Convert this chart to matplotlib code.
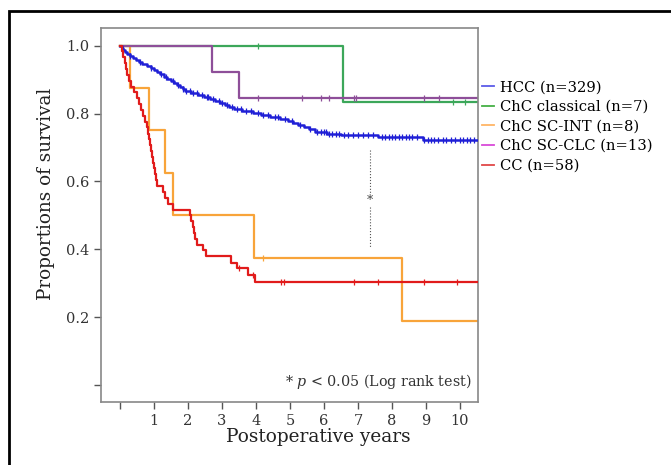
import numpy as np
import matplotlib
matplotlib.use("Agg")
import matplotlib.pyplot as plt
from matplotlib.lines import Line2D
from matplotlib.patches import Rectangle

plt.rcParams['font.family'] = ['DejaVu Serif']
plt.rcParams['mathtext.fontset'] = 'dejavuserif'

# ---- data (years, survival proportion) ----
hcc_t = [0, 0.05, 0.10, 0.15, 0.22, 0.30, 0.38, 0.47, 0.56, 0.66, 0.78, 0.90, 1.00,
         1.10, 1.18, 1.28, 1.38, 1.50, 1.60, 1.68, 1.76, 1.84, 1.92, 2.10, 2.30,
         2.48, 2.65, 2.80, 2.95, 3.08, 3.20, 3.35, 3.60, 3.90, 4.15, 4.40, 4.70,
         4.95, 5.10, 5.25, 5.40, 5.55, 5.75, 6.10, 6.50, 7.60, 8.90]
hcc_s = [1.0, 0.994, 0.988, 0.981, 0.975, 0.969, 0.963, 0.957, 0.951, 0.945, 0.939,
         0.933, 0.927, 0.921, 0.915, 0.909, 0.903, 0.897, 0.891, 0.885, 0.879,
         0.873, 0.867, 0.861, 0.855, 0.849, 0.843, 0.837, 0.831, 0.825, 0.819,
         0.813, 0.807, 0.801, 0.795, 0.789, 0.783, 0.777, 0.771, 0.765, 0.759,
         0.753, 0.747, 0.741, 0.737, 0.730, 0.723]
hcc_cens = [0.3, 0.6, 0.9, 1.2, 1.35, 1.55, 1.7, 1.85, 1.95, 2.05, 2.15, 2.25, 2.4,
            2.55, 2.6, 2.75, 2.9, 3.0, 3.15, 3.3, 3.45, 3.55, 3.7, 3.85, 4.05, 4.2,
            4.35, 4.55, 4.65, 4.85, 5.05, 5.3, 5.6, 5.8, 5.9, 6.0, 6.05, 6.15, 6.25,
            6.35, 6.45, 6.6, 6.7, 6.85, 7.0, 7.15, 7.3, 7.45, 7.7, 7.8, 7.9, 8.0,
            8.1, 8.2, 8.3, 8.4, 8.5, 8.6, 8.75, 8.95, 9.05, 9.15, 9.25, 9.35, 9.5,
            9.6, 9.75, 9.85, 10.0, 10.1, 10.2, 10.3, 10.4]

chc_cl_t = [0, 6.56]
chc_cl_s = [1.0, 0.833]
chc_cl_cens = [4.07, 9.8, 10.15]

chc_int_t = [0, 0.29, 0.86, 1.32, 1.57, 3.95, 8.31]
chc_int_s = [1.0, 0.875, 0.75, 0.625, 0.5, 0.375, 0.1875]
chc_int_cens = [4.2]

chc_clc_t = [0, 2.70, 3.50]
chc_clc_s = [1.0, 0.923, 0.846]
chc_clc_cens = [4.07, 5.34, 5.9, 6.16, 6.89, 6.94, 8.93, 9.37]

cc_t = [0, 0.05, 0.10, 0.14, 0.18, 0.22, 0.26, 0.33, 0.42, 0.50, 0.56, 0.62, 0.68,
        0.74, 0.78, 0.82, 0.86, 0.89, 0.92, 0.95, 0.98, 1.01, 1.04, 1.06, 1.08,
        1.27, 1.31, 1.42, 1.57, 2.06, 2.10, 2.14, 2.18, 2.22, 2.25, 2.45, 2.53,
        3.26, 3.43, 3.77, 3.97]
cc_s = [1.0, 0.983, 0.966, 0.948, 0.931, 0.914, 0.897, 0.879, 0.862, 0.845, 0.828,
        0.810, 0.793, 0.776, 0.759, 0.741, 0.724, 0.707, 0.690, 0.672, 0.655,
        0.638, 0.621, 0.603, 0.586, 0.569, 0.552, 0.534, 0.517, 0.500, 0.483,
        0.466, 0.448, 0.431, 0.414, 0.397, 0.379, 0.361, 0.344, 0.324, 0.305]
cc_cens = [3.5, 3.9, 4.75, 4.82, 6.88, 7.6, 8.94, 9.92]

labels = ["HCC (n=329)", "ChC classical (n=7)", "ChC SC-INT (n=8)",
          "ChC SC-CLC (n=13)", "CC (n=58)"]
follow_up_end = 10.6

fig = plt.figure(figsize=(6.71, 4.65), dpi=100)
ax = fig.add_axes([0.1505, 0.1355, 0.5618, 0.8043])


def km(t, s, cens, color, lw, z):
    tt = list(t) + [follow_up_end]
    ss = list(s) + [s[-1]]
    ax.step(tt, ss, where='post', color=color, lw=lw, zorder=z)
    idx = np.searchsorted(t, cens, side='right') - 1
    ax.plot(cens, np.array(s)[idx], ls='none', marker='|', ms=5, mew=0.9,
            color=color, zorder=z)


km(hcc_t, hcc_s, hcc_cens, '#1f1fd6', 1.8, 3)
km(chc_cl_t, chc_cl_s, chc_cl_cens, '#3ca75a', 1.6, 2)
km(chc_int_t, chc_int_s, chc_int_cens, '#f8a43a', 1.6, 2)
km(chc_clc_t, chc_clc_s, chc_clc_cens, '#8e4f99', 1.6, 2.5)
km(cc_t, cc_s, cc_cens, '#e11b1b', 1.6, 4)

# significance marker between HCC and CC
ax.plot([7.35, 7.35], [0.693, 0.565], ls=':', color='#555555', lw=0.8)
ax.plot([7.35, 7.35], [0.525, 0.404], ls=':', color='#555555', lw=0.8)
ax.text(7.35, 0.545, '*', ha='center', va='center', fontsize=9, color='#444444')
ax.text(0.984, 0.056, '* $p$ < 0.05 (Log rank test)', transform=ax.transAxes,
        ha='right', va='center', fontsize=10.3, color='#333333')

ax.set_xlim(-0.56, 10.53)
ax.set_ylim(-0.050, 1.052)
ax.set_xticks(range(11))
ax.set_xticklabels([''] + [str(i) for i in range(1, 11)])
ax.set_yticks([0, 0.2, 0.4, 0.6, 0.8, 1.0])
ax.set_yticklabels(['', '0.2', '0.4', '0.6', '0.8', '1.0'])
ax.tick_params(direction='out', length=5, width=1, color='#555555',
               labelsize=10.5, labelcolor='#333333')
for sp in ax.spines.values():
    sp.set_color('#888888')
    sp.set_linewidth(1.2)

ax.set_xlabel('Postoperative years', fontsize=13.3, color='#222222')
ax.xaxis.set_label_coords(0.576, -0.07)
ax.set_ylabel('Proportions of survival', fontsize=13.2, color='#222222')
ax.yaxis.set_label_coords(-0.122, 0.556)

handle_colors = ['#5c5ce8', '#45b045', '#ffb566', '#d94ad9', '#e04848']
handles = [Line2D([], [], color=c, lw=1.3) for c in handle_colors]
ax.legend(handles, labels, loc='upper left', bbox_to_anchor=(1.012, 0.86),
          frameon=False, fontsize=10.6, handlelength=0.8, handletextpad=0.4,
          labelspacing=0.38, borderaxespad=0, borderpad=0)

# outer black frame (cropped on the right and bottom)
fig.patches.append(Rectangle((9 / 671, -0.1), 1.2, 1 - 11 / 465 + 0.1,
                             transform=fig.transFigure, fill=False,
                             edgecolor='black', lw=2, clip_on=False))

fig.savefig('out.png', dpi=100)
